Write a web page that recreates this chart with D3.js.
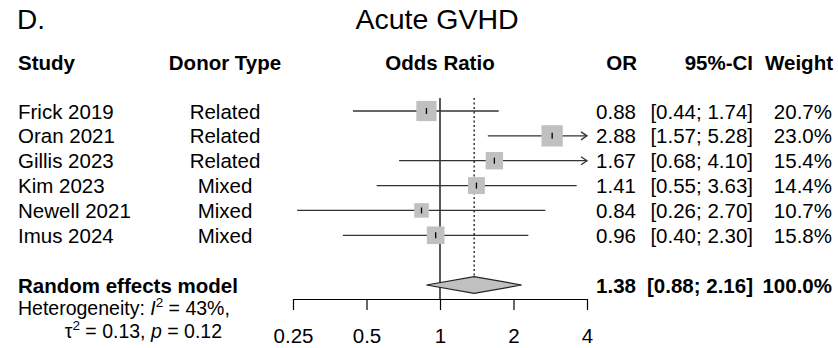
<!DOCTYPE html>
<html>
<head>
<meta charset="utf-8">
<script src="https://cdn.jsdelivr.net/npm/d3@7"></script>
<style>
  html, body { margin: 0; padding: 0; background: #fff; }
  svg { display: block; font-family: "Liberation Sans", Arial, sans-serif; }
</style>
</head>
<body>
<svg id="chart" width="838" height="348"></svg>
<script>
// ---- data ----
const studies = ["Frick 2019", "Oran 2021", "Gillis 2023", "Kim 2023", "Newell 2021", "Imus 2024"];
const donorTypes = ["Related", "Related", "Related", "Mixed", "Mixed", "Mixed"];
const oddsRatios = [0.88, 2.88, 1.67, 1.41, 0.84, 0.96];
const ciLower = [0.44, 1.57, 0.68, 0.55, 0.26, 0.40];
const ciUpper = [1.74, 5.28, 4.10, 3.63, 2.70, 2.30];
const weights = [20.7, 23.0, 15.4, 14.4, 10.7, 15.8];
const pooledOR = 1.38, pooledLower = 0.88, pooledUpper = 2.16, pooledWeight = 100.0;
const axisTicks = [0.25, 0.5, 1, 2, 4];
const headers = ["Study", "Donor Type", "Odds Ratio", "OR", "95%-CI", "Weight"];
const panelLabel = "D.";
const title = "Acute GVHD";

// ---- scales ----
const svg = d3.select("#chart");
const x = d3.scaleLog().base(2).domain([0.25, 4]).range([293, 587]);
const y = d3.scaleLinear().domain([0, 7]).range([111, 285]);
const side = d3.scaleSqrt().domain([0, 23]).range([0, 21.3]);
const f2 = d3.format(".2f"), f1 = d3.format(".1f");
const FS = 20.5;
const lineCol = "#333";

// title
svg.append("text").attr("x", 17).attr("y", 29).attr("font-size", 28).text(panelLabel);
svg.append("text").attr("x", 437).attr("y", 29).attr("font-size", 28.5).attr("text-anchor", "middle").text(title);

// headers
const hY = 70;
const hX = [18, 225, 440, 637, 753, 833];
const hAnchor = ["start", "middle", "middle", "end", "end", "end"];
headers.forEach((h, i) => {
  svg.append("text").attr("x", hX[i]).attr("y", hY).attr("font-size", FS)
    .attr("font-weight", "bold").attr("text-anchor", hAnchor[i]).text(h);
});

// reference lines
svg.append("line").attr("x1", x(1)).attr("x2", x(1)).attr("y1", 98).attr("y2", 299)
  .attr("stroke", "#000").attr("stroke-width", 1.3);
svg.append("line").attr("x1", x(pooledOR)).attr("x2", x(pooledOR)).attr("y1", 98).attr("y2", y(7) - 8.3)
  .attr("stroke", "#000").attr("stroke-width", 1.2).attr("stroke-dasharray", "2,2.5");

// study rows
const rows = studies.map((s, i) => ({ s, d: donorTypes[i], or: oddsRatios[i], lo: ciLower[i], hi: ciUpper[i], w: weights[i], i }));
const [dmin, dmax] = x.domain();

rows.forEach(r => {
  const cy = y(r.i);
  const lo = Math.max(r.lo, dmin), hi = Math.min(r.hi, dmax);
  svg.append("line").attr("x1", x(lo)).attr("x2", x(hi)).attr("y1", cy).attr("y2", cy)
    .attr("stroke", lineCol).attr("stroke-width", 1.3);
  if (r.hi > dmax) {
    const ax = x(dmax);
    svg.append("path").attr("d", `M${ax - 6},${cy - 4}L${ax},${cy}L${ax - 6},${cy + 4}`)
      .attr("fill", "none").attr("stroke", lineCol).attr("stroke-width", 1.3);
  }
  if (r.lo < dmin) {
    const ax = x(dmin);
    svg.append("path").attr("d", `M${ax + 6},${cy - 4}L${ax},${cy}L${ax + 6},${cy + 4}`)
      .attr("fill", "none").attr("stroke", lineCol).attr("stroke-width", 1.3);
  }
  const sz = side(r.w);
  svg.append("rect").attr("x", x(r.or) - sz / 2).attr("y", cy - sz / 2)
    .attr("width", sz).attr("height", sz).attr("fill", "#c0c0c0");
  svg.append("line").attr("x1", x(r.or)).attr("x2", x(r.or)).attr("y1", cy - 3).attr("y2", cy + 3)
    .attr("stroke", "#000").attr("stroke-width", 1.3);

  const by = cy + 7.5;
  svg.append("text").attr("x", 18).attr("y", by).attr("font-size", FS).text(r.s);
  svg.append("text").attr("x", 225).attr("y", by).attr("font-size", FS).attr("text-anchor", "middle").text(r.d);
  svg.append("text").attr("x", 636).attr("y", by).attr("font-size", FS).attr("text-anchor", "end").text(f2(r.or));
  svg.append("text").attr("x", 753).attr("y", by).attr("font-size", FS).attr("text-anchor", "end")
    .text(`[${f2(r.lo)}; ${f2(r.hi)}]`);
  svg.append("text").attr("x", 832).attr("y", by).attr("font-size", FS).attr("text-anchor", "end").text(`${f1(r.w)}%`);
});

// pooled diamond
const py = y(7);
svg.append("path")
  .attr("d", `M${x(pooledLower)},${py}L${x(pooledOR)},${py - 8.3}L${x(pooledUpper)},${py}L${x(pooledOR)},${py + 8.3}Z`)
  .attr("fill", "#c0c0c0").attr("stroke", "#222").attr("stroke-width", 1.2);
const pby = py + 7.5;
svg.append("text").attr("x", 18).attr("y", pby).attr("font-size", FS).attr("font-weight", "bold").text("Random effects model");
svg.append("text").attr("x", 636).attr("y", pby).attr("font-size", FS).attr("font-weight", "bold").attr("text-anchor", "end").text(f2(pooledOR));
svg.append("text").attr("x", 753).attr("y", pby).attr("font-size", FS).attr("font-weight", "bold").attr("text-anchor", "end")
  .text(`[${f2(pooledLower)}; ${f2(pooledUpper)}]`);
svg.append("text").attr("x", 832).attr("y", pby).attr("font-size", FS).attr("font-weight", "bold").attr("text-anchor", "end")
  .text(`${f1(pooledWeight)}%`);

// heterogeneity
const HS = 19.5;
const h1 = svg.append("text").attr("x", 18).attr("y", 315).attr("font-size", HS);
h1.append("tspan").text("Heterogeneity: ");
h1.append("tspan").attr("font-style", "italic").text("I");
h1.append("tspan").attr("font-size", 13.5).attr("dy", -8).text("2");
h1.append("tspan").attr("dy", 8).text(" = 43%,");
const h2 = svg.append("text").attr("x", 222).attr("y", 338).attr("font-size", HS).attr("text-anchor", "end");
h2.append("tspan").text("τ");
h2.append("tspan").attr("font-size", 13.5).attr("dy", -8).text("2");
h2.append("tspan").attr("dy", 8).text(" = 0.13, ");
h2.append("tspan").attr("font-style", "italic").text("p");
h2.append("tspan").text(" = 0.12");

// axis
const axis = d3.axisBottom(x).tickValues(axisTicks).tickFormat(d => String(d)).tickSize(11).tickSizeOuter(0);
const ag = svg.append("g").attr("transform", "translate(0,299)").call(axis);
ag.select(".domain").attr("stroke", "#000").attr("stroke-width", 1.2);
ag.selectAll(".tick line").attr("stroke", "#000").attr("stroke-width", 1.2);
ag.selectAll(".tick text").attr("font-size", FS).attr("font-family", "Liberation Sans, Arial, sans-serif")
  .attr("fill", "#000").attr("dy", null).attr("y", 44);
</script>
</body>
</html>
